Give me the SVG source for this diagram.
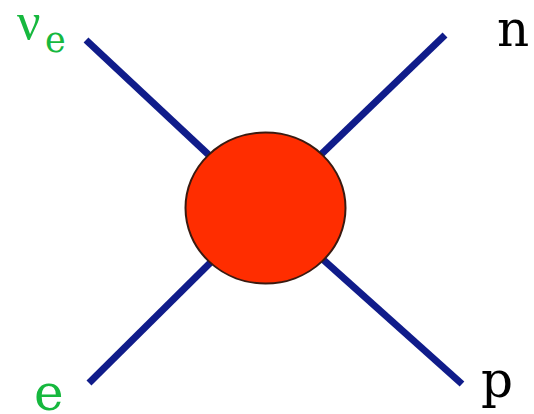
<svg xmlns="http://www.w3.org/2000/svg" width="534" height="414" viewBox="0 0 534 414">
<style>
.leg{stroke:#101c8a;stroke-width:7;stroke-linecap:butt;fill:none}
.lbl{font-family:"DejaVu Serif",serif;font-size:50px}
.green{fill:#16b83e}
.black{fill:#000}
</style>
<rect width="534" height="414" fill="#fff"/>
<g id="connectors">
<line class="leg" x1="86" y1="40" x2="265.5" y2="208"/>
<line class="leg" x1="445" y1="35" x2="265.5" y2="208"/>
<line class="leg" x1="89" y1="383" x2="265.5" y2="208"/>
<line class="leg" x1="462" y1="384" x2="265.5" y2="208"/>
</g>
<g id="vertex">
<ellipse cx="265.5" cy="208" rx="80" ry="75.5" fill="#ff2d00" stroke="#3a1a10" stroke-width="2"/>
</g>
<g id="nu_e">
<text class="green" x="17" y="39" style="font-family:'Liberation Serif',serif;font-size:52px">ν</text>
<text class="lbl green" x="45" y="52" style="font-size:35px">e</text>
</g>
<g id="n"><text class="lbl black" x="497" y="46">n</text></g>
<g id="e"><text class="lbl green" x="34" y="410">e</text></g>
<g id="p"><text class="lbl black" x="481" y="397">p</text></g>
</svg>
